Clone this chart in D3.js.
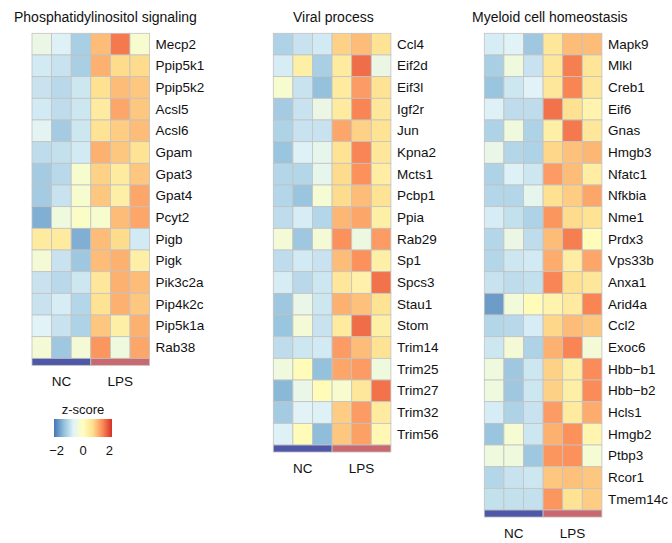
<!DOCTYPE html>
<html>
<head>
<meta charset="utf-8">
<script src="https://cdn.jsdelivr.net/npm/d3@7"></script>
<style>
  body { margin: 0; background: #fff; }
  text { font-family: "Liberation Sans", Arial, sans-serif; fill: #111; }
</style>
</head>
<body>
<div id="chart"></div>
<script>
// ─── Data ─────────────────────────────────────────────────────────────────────
const samples = ["NC1", "NC2", "NC3", "LPS1", "LPS2", "LPS3"];
const groups = ["NC", "LPS"];

const piGenes = ["Mecp2", "Ppip5k1", "Ppip5k2", "Acsl5", "Acsl6", "Gpam", "Gpat3", "Gpat4",
  "Pcyt2", "Pigb", "Pigk", "Pik3c2a", "Pip4k2c", "Pip5k1a", "Rab38"];
const piValues = [
  [-0.5, -0.8, -1.3, 1.1, 1.7, -0.2],
  [-0.9, -1.0, -1.3, 1.2, 0.8, 0.8],
  [-1.0, -1.15, -0.95, 0.75, 1.1, 1.0],
  [-0.9, -1.1, -0.95, 0.5, 1.3, 1.0],
  [-0.7, -1.35, -0.95, 0.7, 0.95, 1.1],
  [-1.1, -1.05, -0.9, 1.2, 1.0, 0.7],
  [-1.35, -1.15, -0.2, 0.9, 0.5, 1.0],
  [-1.35, -1.0, -0.2, 1.0, 0.4, 1.3],
  [-1.7, -0.4, -0.1, -0.2, 1.1, 1.3],
  [0.5, 0.5, -1.7, 1.1, 0.8, -0.9],
  [-0.3, -1.0, -1.4, 1.1, 1.2, 0.4],
  [-1.0, -1.15, -0.95, 0.6, 1.2, 1.1],
  [-1.0, -0.85, -1.2, 0.7, 1.2, 1.0],
  [-0.75, -1.0, -1.25, 1.0, 0.4, 1.2],
  [-0.3, -1.4, -0.3, 1.45, -0.4, 1.3],
];

const viralGenes = ["Ccl4", "Eif2d", "Eif3l", "Igf2r", "Jun", "Kpna2", "Mcts1", "Pcbp1", "Ppia",
  "Rab29", "Sp1", "Spcs3", "Stau1", "Stom", "Trim14", "Trim25", "Trim27", "Trim32", "Trim56"];
const viralValues = [
  [-1.25, -1.0, -0.9, 0.9, 1.1, 0.7],
  [-0.85, 0.4, -1.3, 0.5, 1.8, -0.5],
  [-0.2, -1.0, -1.5, 0.5, 1.4, 0.7],
  [-1.35, -1.0, -0.5, 0.5, 1.6, 0.6],
  [-1.25, -1.0, -1.0, 1.3, 0.9, 0.7],
  [-1.45, -0.8, -0.6, 0.7, 1.6, 0.6],
  [-1.2, -1.2, -0.6, 0.8, 1.5, 0.45],
  [-1.2, -1.45, -0.25, 0.8, 1.1, 0.7],
  [-1.1, -0.85, -1.2, 1.15, 1.3, 0.4],
  [-0.3, -1.4, -0.3, 1.5, -0.45, 1.4],
  [-1.1, -0.9, -1.0, 1.1, 1.5, 0.4],
  [-0.85, -1.15, -0.95, 0.6, 0.35, 1.75],
  [-1.4, -0.55, -0.95, 1.2, 1.05, 0.7],
  [-1.45, -0.3, -1.0, 0.5, 1.8, 0.4],
  [-1.1, -0.95, -0.9, 1.4, 1.1, 0.7],
  [-0.4, 0.1, -1.5, 1.3, 1.4, -0.4],
  [-1.6, -0.55, 0.1, -0.2, 0.6, 1.75],
  [-1.35, -0.75, -0.8, 0.95, 1.4, 0.5],
  [-0.8, 0.1, -1.55, 1.0, 1.35, 0.2],
];

const myeloidGenes = ["Mapk9", "Mlkl", "Creb1", "Eif6", "Gnas", "Hmgb3", "Nfatc1", "Nfkbia", "Nme1",
  "Prdx3", "Vps33b", "Anxa1", "Arid4a", "Ccl2", "Exoc6", "Hbb\u2212b1", "Hbb\u2212b2", "Hcls1",
  "Hmgb2", "Ptbp3", "Rcor1", "Tmem14c"];
const myeloidValues = [
  [-0.85, -0.75, -1.4, 0.6, 1.1, 1.1],
  [-1.3, -0.4, -1.0, 0.6, 1.65, 0.65],
  [-1.45, -0.95, -0.75, 0.6, 1.6, 0.6],
  [-0.8, -1.1, -1.1, 1.75, 0.75, 0.3],
  [-1.25, -0.4, -1.25, 0.4, 1.7, 0.6],
  [-0.55, -1.2, -1.25, 0.85, 1.05, 1.15],
  [-1.25, -0.8, -0.95, 1.4, 1.1, 0.45],
  [-1.2, -1.2, -0.6, 0.75, 0.95, 1.3],
  [-0.85, -1.05, -1.25, 1.45, 0.8, 0.7],
  [-1.2, -0.5, -1.1, 1.1, 1.65, 0.1],
  [-1.2, -0.95, -0.9, 1.25, 0.45, 1.3],
  [-1.0, -1.1, -1.05, 1.6, 0.75, 0.6],
  [-1.9, -0.35, 0.1, 0.3, 0.5, 1.6],
  [-1.2, -1.15, -0.85, 0.85, 1.1, 1.0],
  [-0.95, -0.3, -1.25, 1.2, 1.6, -0.3],
  [-0.4, -1.4, -0.95, 0.9, 0.4, 1.55],
  [-0.4, -1.4, -0.95, 0.9, 0.4, 1.55],
  [-0.85, -1.25, -1.0, 1.4, 0.5, 1.25],
  [-1.45, -0.25, -0.95, 1.2, 1.5, 0.25],
  [-0.4, -0.4, -1.4, 1.45, 1.5, -0.25],
  [-1.2, -1.0, -0.95, 1.0, 1.05, 1.0],
  [-1.05, -1.05, -1.05, 1.45, 0.7, 0.95],
];

const legendTicks = [-2, 0, 2];
const palette = ["#4575B4", "#91BFDB", "#E0F3F8", "#FFFFBF", "#FEE090", "#FC8D59", "#D73027"];

// ─── Setup ────────────────────────────────────────────────────────────────────
const W = 672, H = 543;
const svg = d3.select("#chart").append("svg").attr("width", W).attr("height", H);

const zMax = 2.3;
const color = d3.scaleLinear()
  .domain(d3.range(palette.length).map((i) => -zMax + (2 * zMax * i) / (palette.length - 1)))
  .range(palette);
const groupColor = d3.scaleOrdinal().domain(groups).range(["#4f58a8", "#c9686e"]);

const heatTop = 33.3, rowH = 21.67, cellW = 19.6, annH = 7;

function drawPanel(x0, title, titleX, genes, values) {
  const g = svg.append("g");
  const x = d3.scaleBand().domain(samples).range([x0, x0 + cellW * samples.length]);
  const y = d3.scaleBand().domain(genes).range([heatTop, heatTop + rowH * genes.length]);

  g.append("text").attr("x", titleX).attr("y", 22)
    .style("font-size", "14px").text(title);

  const cells = genes.flatMap((gene, i) => samples.map((s, j) => ({ gene, s, v: values[i][j] })));
  g.selectAll("rect.cell").data(cells).join("rect").attr("class", "cell")
    .attr("x", (d) => x(d.s)).attr("y", (d) => y(d.gene))
    .attr("width", x.bandwidth()).attr("height", y.bandwidth())
    .attr("fill", (d) => color(d.v))
    .attr("stroke", "#c2c2c2").attr("stroke-width", 0.8);

  // annotation bar
  const annY = y.range()[1];
  const grpX = d3.scaleBand().domain(groups).range(x.range());
  g.selectAll("rect.ann").data(groups).join("rect").attr("class", "ann")
    .attr("x", (d) => grpX(d)).attr("y", annY)
    .attr("width", grpX.bandwidth()).attr("height", annH)
    .attr("fill", (d) => groupColor(d))
    .attr("stroke", "#c2c2c2").attr("stroke-width", 0.8);

  g.selectAll("text.grp").data(groups).join("text").attr("class", "grp")
    .attr("x", (d) => grpX(d) + grpX.bandwidth() / 2).attr("y", annY + annH + 16)
    .attr("text-anchor", "middle").attr("dominant-baseline", "central")
    .style("font-size", "13.5px").text((d) => d);

  g.selectAll("text.gene").data(genes).join("text").attr("class", "gene")
    .attr("x", x.range()[1] + 6).attr("y", (d) => y(d) + y.bandwidth() / 2)
    .attr("dominant-baseline", "central")
    .style("font-size", "13.5px").text((d) => d);
}

drawPanel(32, "Phosphatidylinositol signaling", 14, piGenes, piValues);
drawPanel(273.3, "Viral process", 293, viralGenes, viralValues);
drawPanel(484.3, "Myeloid cell homeostasis", 472, myeloidGenes, myeloidValues);

// ─── Legend ───────────────────────────────────────────────────────────────────
const lx = d3.scaleLinear().domain([-2.2, 2.2]).range([54, 112]);
const defs = svg.append("defs");
const grad = defs.append("linearGradient").attr("id", "zgrad");
grad.selectAll("stop").data(color.domain()).join("stop")
  .attr("offset", (d) => (d + zMax) / (2 * zMax))
  .attr("stop-color", (d) => color(d));

const lg = svg.append("g");
lg.append("text").attr("x", 83).attr("y", 409).attr("text-anchor", "middle")
  .attr("dominant-baseline", "central").style("font-size", "13px").text("z-score");
lg.append("rect").attr("x", lx.range()[0]).attr("y", 419)
  .attr("width", lx.range()[1] - lx.range()[0]).attr("height", 18)
  .attr("fill", "url(#zgrad)");
lg.selectAll("text.tick").data(legendTicks).join("text").attr("class", "tick")
  .attr("x", (d) => lx(d)).attr("y", 450).attr("text-anchor", "middle")
  .attr("dominant-baseline", "central").style("font-size", "13px")
  .text((d) => d3.format("")(d).replace("-", "\u2212"));
</script>
</body>
</html>
